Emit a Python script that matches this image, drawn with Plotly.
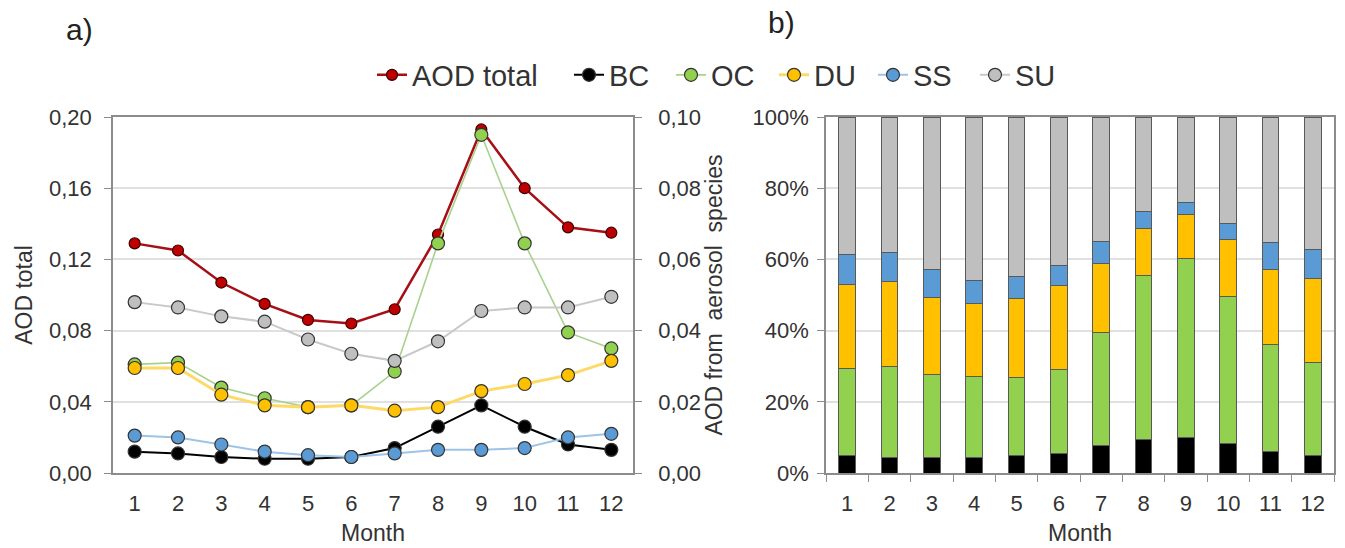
import plotly.graph_objects as go

months = list(range(1, 13))
month_labels = [str(m) for m in months]

aod_total = [0.129, 0.125, 0.107, 0.095, 0.086, 0.084, 0.092, 0.134, 0.193, 0.160, 0.138, 0.135]
bc = [0.0060, 0.0055, 0.0045, 0.0040, 0.0040, 0.0045, 0.0070, 0.0130, 0.0190, 0.0130, 0.0080, 0.0065]
oc = [0.0305, 0.0310, 0.0240, 0.0210, 0.0185, 0.0190, 0.0285, 0.0645, 0.0950, 0.0645, 0.0395, 0.0350]
du = [0.0295, 0.0295, 0.0220, 0.0190, 0.0185, 0.0190, 0.0175, 0.0185, 0.0230, 0.0250, 0.0275, 0.0315]
ss = [0.0105, 0.0100, 0.0080, 0.0060, 0.0050, 0.0045, 0.0055, 0.0065, 0.0065, 0.0070, 0.0100, 0.0110]
su = [0.0480, 0.0465, 0.0440, 0.0425, 0.0375, 0.0335, 0.0315, 0.0370, 0.0455, 0.0465, 0.0465, 0.0495]

species = [
    ("BC", bc, "#000000", "#000000", 2),
    ("OC", oc, "#92d050", "#a9d18e", 1.6),
    ("DU", du, "#ffc000", "#ffd966", 3),
    ("SS", ss, "#5b9bd5", "#9dc3e6", 2),
    ("SU", su, "#bfbfbf", "#c9c9c9", 2),
]

FONT = "Liberation Sans, Arial, sans-serif"
TXT = "#333333"
GRID = "#e0e0e0"
AXL = "#8c8c8c"

W, H = 1345, 548
ml, mr, mt, mb = 113, 11, 117, 75
pw = W - ml - mr
ph = H - mt - mb


def px_to_paper_x(px):
    return (px - ml) / pw


def px_to_paper_y(py):
    return (H - mb - py) / ph


legend_ids = ["legend", "legend2", "legend3", "legend4", "legend5", "legend6"]
legend_marker_px = [394, 591, 693, 796, 895, 997]

fig = go.Figure()

# Panel a: lines
fig.add_trace(go.Scatter(
    x=months, y=aod_total, name="AOD total", mode="lines+markers",
    line=dict(color="#a50f15", width=2.5),
    marker=dict(symbol="circle", size=11, color="#c00000", line=dict(color="#3a0000", width=1.2)),
    xaxis="x", yaxis="y", legend=legend_ids[0]))
for i, (name, vals, mcol, lcol, lw) in enumerate(species):
    fig.add_trace(go.Scatter(
        x=months, y=vals, name=name, mode="lines+markers",
        line=dict(color=lcol, width=lw),
        marker=dict(symbol="circle", size=13, color=mcol, line=dict(color="#333333", width=1.2)),
        xaxis="x", yaxis="y2", legend=legend_ids[i + 1]))

# Panel b: stacked percent bars
for name, vals, mcol, lcol, lw in species:
    fig.add_trace(go.Bar(
        x=month_labels, y=vals, name=name, showlegend=False,
        marker=dict(color=mcol, line=dict(color="#595959", width=1)),
        width=0.4, xaxis="x3", yaxis="y3"))

tickfont = dict(family=FONT, size=22, color=TXT)
titlefont = dict(family=FONT, size=23, color=TXT)

legend_layouts = {}
for lid, mx in zip(legend_ids, legend_marker_px):
    legend_layouts[lid] = dict(
        orientation="h", x=px_to_paper_x(mx - 22), xanchor="left",
        y=px_to_paper_y(75), yanchor="middle",
        font=dict(family=FONT, size=29, color=TXT), bgcolor="rgba(0,0,0,0)",
        itemwidth=30)

fig.update_layout(
    width=W, height=H,
    margin=dict(l=ml, r=mr, t=mt, b=mb, autoexpand=False),
    paper_bgcolor="white", plot_bgcolor="white",
    separators=",.",
    barmode="stack", barnorm="percent",
    font=dict(family=FONT, color=TXT),
    showlegend=True,
    xaxis=dict(domain=[0, px_to_paper_x(633)], range=[0.5, 12.5], tickvals=months,
               showgrid=False, showline=True, linecolor=AXL, linewidth=1.5, mirror=True,
               ticks="", tickfont=tickfont, zeroline=False, ticklabelstandoff=10,
               automargin=False,
               title=dict(text="Month", font=titlefont, standoff=10)),
    yaxis=dict(domain=[0, 1], range=[0, 0.2], dtick=0.04, tickformat=".2f",
               showgrid=True, gridcolor=GRID, gridwidth=1.5, zeroline=False,
               showline=True, linecolor=AXL, linewidth=1.5, automargin=False,
               ticks="outside", ticklen=7, tickcolor=AXL, ticklabelstandoff=8,
               tickfont=tickfont, title=dict(text="AOD total", font=titlefont, standoff=10)),
    yaxis2=dict(overlaying="y", side="right", anchor="x", range=[0, 0.1], dtick=0.02,
                tickformat=".2f", showgrid=False, zeroline=False,
                showline=True, linecolor=AXL, linewidth=1.5, automargin=False,
                ticks="outside", ticklen=7, tickcolor=AXL, ticklabelstandoff=12,
                tickfont=tickfont,
                title=dict(text="AOD from\u00a0 aerosol\u00a0 species", font=titlefont, standoff=6)),
    xaxis3=dict(domain=[px_to_paper_x(826), 1], anchor="y3", type="category",
                showgrid=False, showline=True, linecolor=AXL, linewidth=1.5, mirror=True,
                ticks="outside", tickson="boundaries", ticklen=7, tickcolor=AXL,
                tickfont=tickfont, zeroline=False, ticklabelstandoff=10, automargin=False,
                title=dict(text="Month", font=titlefont, standoff=10)),
    yaxis3=dict(domain=[0, 1], anchor="x3", range=[0, 100], dtick=20, ticksuffix="%",
                showgrid=True, gridcolor=GRID, gridwidth=1.5, zeroline=False,
                showline=True, linecolor=AXL, linewidth=1.5, mirror=True, automargin=False,
                ticks="outside", ticklen=7, tickcolor=AXL, ticklabelstandoff=4,
                tickfont=tickfont),
    annotations=[
        dict(text="a)", x=px_to_paper_x(79), y=px_to_paper_y(30), xref="paper", yref="paper",
             showarrow=False, font=dict(family=FONT, size=30, color="#222222"),
             xanchor="center", yanchor="middle"),
        dict(text="b)", x=px_to_paper_x(781), y=px_to_paper_y(23), xref="paper", yref="paper",
             showarrow=False, font=dict(family=FONT, size=30, color="#222222"),
             xanchor="center", yanchor="middle"),
    ],
    **legend_layouts,
)

fig.write_html("out.html")
